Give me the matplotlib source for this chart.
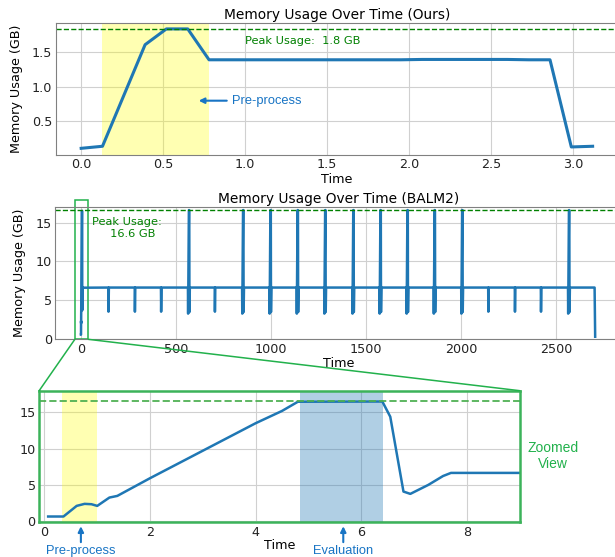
import matplotlib
matplotlib.use('Agg')
import matplotlib.pyplot as plt
from matplotlib.patches import Rectangle, ConnectionPatch

# Ours: memory trace (GB) sampled every ~0.13 s
ours_t = [0.0, 0.13, 0.26, 0.39, 0.52, 0.65, 0.78, 0.91, 1.04, 1.17, 1.30, 1.43, 1.56,
          1.69, 1.82, 1.95, 2.08, 2.21, 2.34, 2.47, 2.60, 2.73, 2.86, 2.99, 3.12]
ours_mem = [0.10, 0.13, 0.87, 1.61, 1.84, 1.84, 1.39, 1.39, 1.39, 1.39, 1.39, 1.39, 1.39,
            1.39, 1.39, 1.39, 1.395, 1.395, 1.395, 1.395, 1.395, 1.39, 1.39, 0.12, 0.13]
ours_peak = 1.84

# BALM2: first seconds of the run (also shown in the zoomed panel)
zoom_t = [0.07, 0.36, 0.61, 0.76, 0.89, 1.0, 1.23, 1.38, 2.0, 2.5, 3.0, 3.5, 4.0, 4.5,
          4.8, 6.4, 6.55, 6.8, 6.93, 7.27, 7.55, 7.7, 9.0]
zoom_mem = [0.6, 0.6, 2.07, 2.35, 2.3, 2.07, 3.22, 3.45, 5.9, 7.8, 9.7, 11.6, 13.5, 15.2,
            16.47, 16.5, 14.4, 4.05, 3.73, 4.97, 6.2, 6.63, 6.63]

# BALM2: periodic events over the full run
balm_base = 6.65
balm_peak = 16.6
spike_times = [564, 849, 993, 1136, 1281, 1429, 1572, 1714, 1857, 2002, 2564]
spike_floor = 3.3
dip_times = [145, 284, 422, 705, 2144, 2284, 2421]
dip_floor = 3.55
run_end = 2703
end_mem = 0.33

# assemble the full BALM2 trace
events = sorted([(t, 'spike') for t in spike_times] + [(t, 'dip') for t in dip_times])
balm_t = list(zoom_t)
balm_mem = list(zoom_mem)
for t, kind in events:
    if kind == 'spike':
        balm_t += [t - 1, t, t + 4, t + 6, t + 7, t + 9]
        balm_mem += [balm_base, spike_floor, balm_peak, balm_peak, 3.5, balm_base]
    else:
        balm_t += [t - 1, t, t + 2]
        balm_mem += [balm_base, dip_floor, balm_base]
balm_t += [run_end, run_end + 3]
balm_mem += [balm_base, end_mem]

line_c = '#1f77b4'
note_c = '#1874c4'
zoom_c = '#22b14c'
spine_c = '#808080'
grid_c = '#d0d0d0'
note_font = ['Liberation Sans', 'DejaVu Sans']

fig = plt.figure(figsize=(6.15, 5.57), dpi=100)
ax1 = fig.add_axes([0.0904, 0.7217, 0.9148, 0.2375])
ax2 = fig.add_axes([0.0899, 0.3908, 0.9208, 0.2376])
ax3 = fig.add_axes([0.0637, 0.0623, 0.7812, 0.2363])

for ax in (ax1, ax2, ax3):
    ax.grid(True, color=grid_c, linewidth=0.8)
    ax.set_axisbelow(True)
    ax.tick_params(labelsize=9.2, labelcolor='#222222', length=0, pad=2.5)
    for s in ax.spines.values():
        s.set_color(spine_c)

# --- top: ours
ax1.plot(ours_t, ours_mem, color=line_c, linewidth=2.2)
ax1.axvspan(0.13, 0.78, color='yellow', alpha=0.3, linewidth=0)
ax1.axhline(ours_peak, color='green', linestyle='--', linewidth=1)
ax1.text(1.0, 1.66, 'Peak Usage:  1.8 GB', color='green', fontsize=8.2, va='center')
ax1.annotate('Pre-process', xy=(0.70, 0.794), xytext=(0.922, 0.794),
             color=note_c, fontsize=9.3, family=note_font, va='center',
             arrowprops=dict(arrowstyle='-|>', color=note_c, lw=1.5, mutation_scale=8))
ax1.set_xlim(-0.156, 3.276)
ax1.set_ylim(0.0025, 1.93)
ax1.set_yticks([0.5, 1.0, 1.5])
ax1.set_title('Memory Usage Over Time (Ours)', fontsize=9.9, pad=3)
ax1.set_xlabel('Time', fontsize=9.2, labelpad=1)
ax1.set_ylabel('Memory Usage (GB)', fontsize=9.2, labelpad=6.4)

# --- middle: BALM2 full run
ax2.plot(balm_t, balm_mem, color=line_c, linewidth=1.8)
ax2.axhline(balm_peak, color='green', linestyle='--', linewidth=1)
ax2.text(60, 14.3, 'Peak Usage:\n     16.6 GB', color='green', fontsize=8.2, va='center')
ax2.set_xlim(-135, 2845)
ax2.set_ylim(0, 17)
ax2.set_yticks([0, 5, 10, 15])
ax2.set_title('Memory Usage Over Time (BALM2)', fontsize=9.9, pad=3)
ax2.set_xlabel('Time', fontsize=9.2, labelpad=1)
ax2.set_ylabel('Memory Usage (GB)', fontsize=9.2, labelpad=7.2)
ax2.add_patch(Rectangle((-32, 0), 71, 17.9, fill=False, edgecolor=zoom_c,
                        linewidth=1.1, clip_on=False))

# --- bottom: zoomed first seconds
ax3.plot(zoom_t, zoom_mem, color=line_c, linewidth=1.8)
ax3.axvspan(0.33, 1.0, color='yellow', alpha=0.3, linewidth=0)
ax3.axvspan(4.84, 6.42, color=line_c, alpha=0.35, linewidth=0)
ax3.axhline(balm_peak, color='#4caf50', linestyle='--', linewidth=1.4, alpha=0.9)
ax3.set_xlim(-0.1, 9.0)
ax3.set_ylim(-0.2, 18)
ax3.set_xticks([0, 2, 4, 6, 8])
ax3.set_yticks([0, 5, 10, 15])
ax3.set_xlabel('Time', fontsize=9.2, labelpad=0)
for s in ax3.spines.values():
    s.set_color('#3cb35a')
    s.set_linewidth(1.8)

for x0, label in [(0.69, 'Pre-process'), (5.66, 'Evaluation')]:
    ax3.annotate(label, xy=(x0, -0.03), xycoords=ax3.get_xaxis_transform(),
                 xytext=(x0, -0.172), textcoords=ax3.get_xaxis_transform(),
                 color=note_c, fontsize=9.3, family=note_font, ha='center', va='top',
                 arrowprops=dict(arrowstyle='-|>', color=note_c, lw=1.5,
                                 mutation_scale=8, shrinkA=0, shrinkB=0))
ax3.text(1.07, 0.504, 'Zoomed\nView', transform=ax3.transAxes, color=zoom_c,
         fontsize=10, family=note_font, ha='center', va='center')

# connector lines from the marked region to the zoomed panel
for xa, xb in [(-32, 0), (39, 1)]:
    con = ConnectionPatch(xyA=(xa, 0), coordsA=ax2.transData,
                          xyB=(xb, 1), coordsB=ax3.transAxes,
                          color=zoom_c, linewidth=1.1)
    fig.add_artist(con)

fig.savefig('out.png', dpi=100)
